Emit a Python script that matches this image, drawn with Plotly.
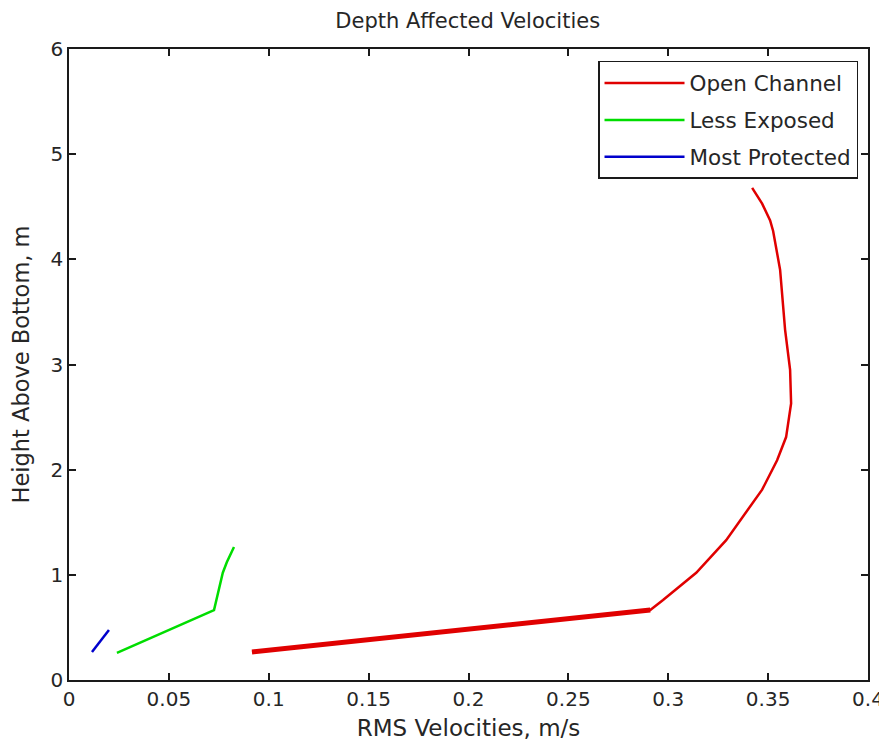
import plotly.graph_objects as go

# Open Channel
open_x = [0.0916, 0.291, 0.2974, 0.314, 0.329, 0.339, 0.347, 0.3545, 0.359, 0.3615,
          0.361, 0.3585, 0.356, 0.3525, 0.351, 0.347, 0.342]
open_y = [0.266, 0.665, 0.76, 1.02, 1.33, 1.59, 1.81, 2.09, 2.31, 2.63,
          2.95, 3.33, 3.90, 4.27, 4.37, 4.53, 4.68]
# Less Exposed
less_x = [0.024, 0.0726, 0.077, 0.079, 0.0826]
less_y = [0.257, 0.665, 1.02, 1.12, 1.265]
# Most Protected
most_x = [0.0115, 0.020]
most_y = [0.266, 0.475]

x_ticks = [0, 0.05, 0.1, 0.15, 0.2, 0.25, 0.3, 0.35, 0.4]
x_labels = ["0", "0.05", "0.1", "0.15", "0.2", "0.25", "0.3", "0.35", "0.4"]
y_ticks = [0, 1, 2, 3, 4, 5, 6]

FONT = "DejaVu Sans"
TXT = "#262626"
fig = go.Figure()
fig.add_trace(go.Scatter(x=open_x, y=open_y, mode="lines", name="Open Channel",
                         line=dict(color="#e00000", width=2.5), legendgroup="a"))
fig.add_trace(go.Scatter(x=open_x[:2], y=open_y[:2], mode="lines", name="Open Channel",
                         line=dict(color="#e00000", width=5), legendgroup="a",
                         showlegend=False, hoverinfo="skip"))
fig.add_trace(go.Scatter(x=less_x, y=less_y, mode="lines", name="Less Exposed",
                         line=dict(color="#00dd00", width=2.5), legendgroup="b"))
fig.add_trace(go.Scatter(x=most_x, y=most_y, mode="lines", name="Most Protected",
                         line=dict(color="#0000cc", width=2.5), legendgroup="c"))

axis_common = dict(showgrid=False, zeroline=False, showline=True, linecolor="#1a1a1a",
                   linewidth=1.5, mirror="ticks", ticks="inside", ticklen=7,
                   tickcolor="#1a1a1a", tickwidth=1.5, automargin=False,
                   tickfont=dict(family=FONT, size=20, color=TXT))

fig.update_layout(
    width=879, height=739,
    paper_bgcolor="white", plot_bgcolor="white",
    margin=dict(l=61, r=19, t=41, b=67),
    title=dict(text="Depth Affected Velocities", x=0.523, xanchor="center", y=0.983,
               yanchor="middle", font=dict(family=FONT, size=21, color=TXT)),
    xaxis=dict(range=[0, 0.4], tickvals=x_ticks, ticktext=x_labels,
               title=dict(text="RMS Velocities, m/s", standoff=10,
                          font=dict(family=FONT, size=23, color=TXT)),
               **axis_common),
    yaxis=dict(range=[0, 6], tickvals=y_ticks,
               title=dict(text="Height Above Bottom, m", standoff=16,
                          font=dict(family=FONT, size=22.5, color=TXT)),
               **axis_common),
    legend=dict(x=0.9875, xanchor="right", y=0.981, yanchor="top",
                bgcolor="white", bordercolor="#1a1a1a", borderwidth=1.5,
                font=dict(family=FONT, size=21.5, color=TXT),
                tracegroupgap=6, itemwidth=80),
    showlegend=True,
)

fig.write_html("out.html")
